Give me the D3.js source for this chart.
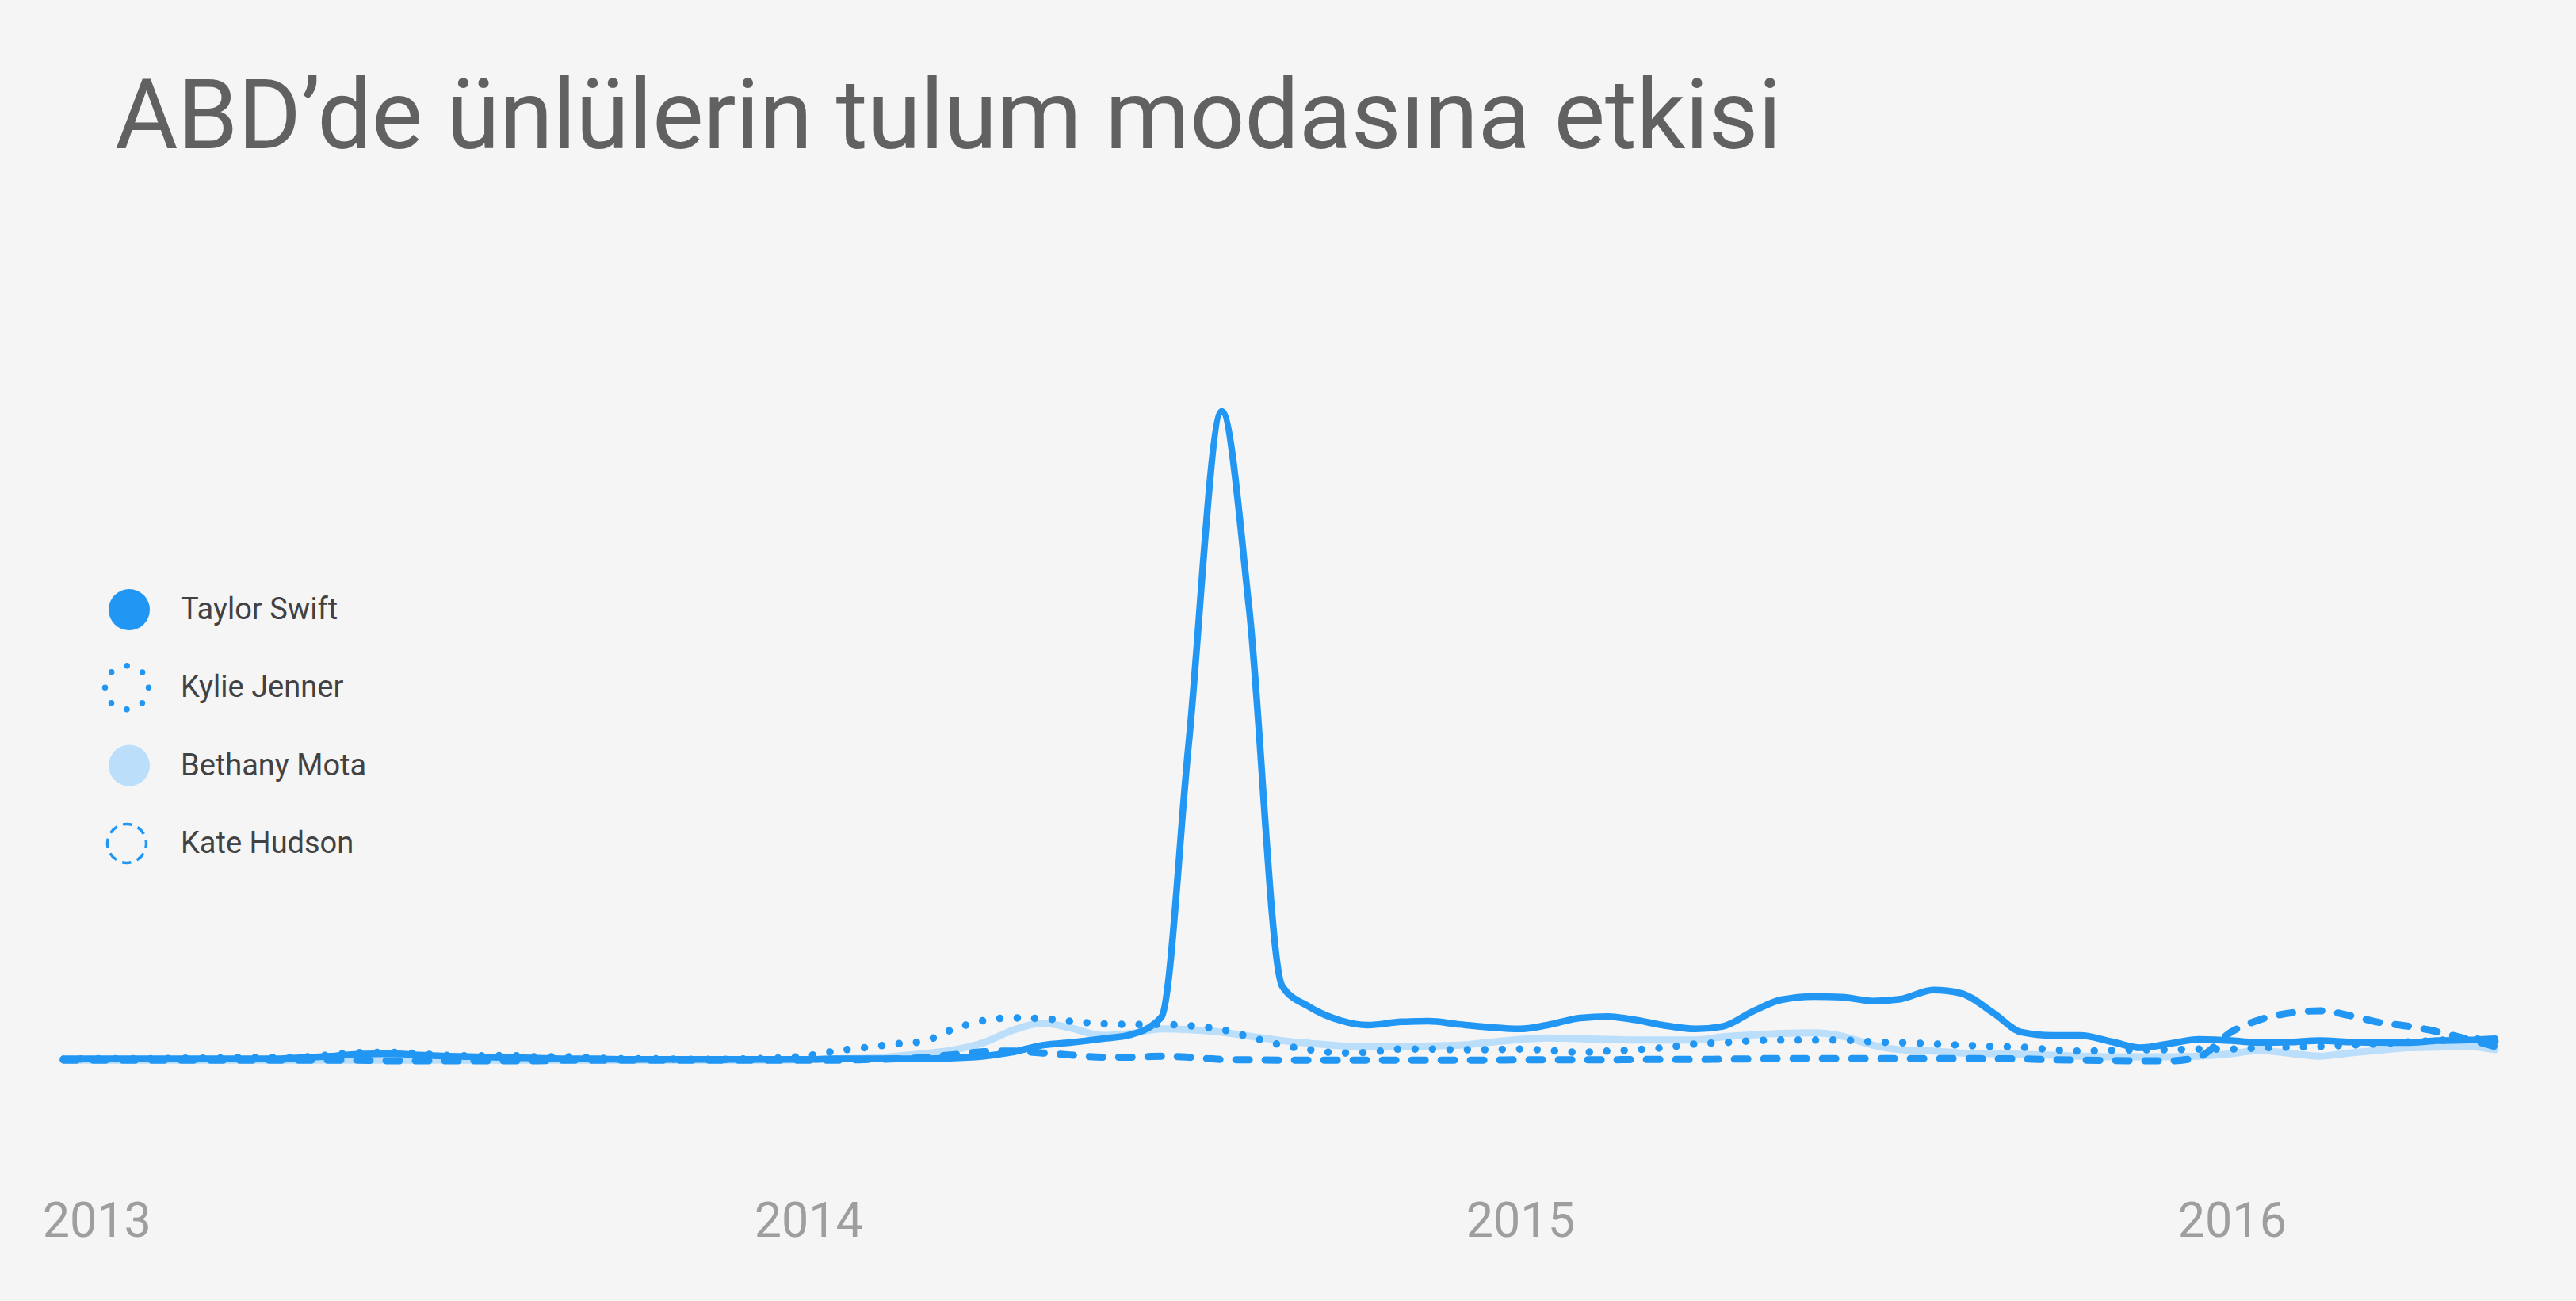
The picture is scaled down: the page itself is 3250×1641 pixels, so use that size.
<!DOCTYPE html>
<html>
<head>
<meta charset="utf-8">
<script src="https://cdn.jsdelivr.net/npm/d3@7"></script>
<style>
html, body { margin: 0; padding: 0; background: #F5F5F5; }
svg { display: block; }
</style>
</head>
<body>
<script>
// ---------- DATA ----------
const titleText = "ABD’de ünlülerin tulum modasına etkisi";
const seriesNames = ["Taylor Swift", "Kylie Jenner", "Bethany Mota", "Kate Hudson"];
const yearLabels = ["2013", "2014", "2015", "2016"];

const dates = [
  "2012-12-15",
  "2013-01-01","2013-01-15","2013-02-01","2013-02-15","2013-03-01","2013-03-15",
  "2013-04-01","2013-04-15","2013-05-01","2013-05-15","2013-06-01","2013-06-15",
  "2013-07-01","2013-07-15","2013-08-01","2013-08-15","2013-09-01","2013-09-15",
  "2013-10-01","2013-10-15","2013-11-01","2013-11-15","2013-12-01","2013-12-15",
  "2014-01-01","2014-01-15","2014-02-01","2014-02-15","2014-03-01","2014-03-15",
  "2014-04-01","2014-04-15","2014-05-01","2014-05-15","2014-06-01","2014-06-15",
  "2014-07-01","2014-07-15","2014-08-01","2014-08-15","2014-09-01","2014-09-15",
  "2014-10-01","2014-10-15","2014-11-01","2014-11-15","2014-12-01","2014-12-15",
  "2015-01-01","2015-01-15","2015-02-01","2015-02-15","2015-03-01","2015-03-15",
  "2015-04-01","2015-04-15","2015-05-01","2015-05-15","2015-06-01","2015-06-15",
  "2015-07-01","2015-07-15","2015-08-01","2015-08-15","2015-09-01","2015-09-15",
  "2015-10-01","2015-10-15","2015-11-01","2015-11-15","2015-12-01","2015-12-15",
  "2016-01-01","2016-01-15","2016-02-01","2016-02-15","2016-03-01","2016-03-15",
  "2016-04-01","2016-04-15","2016-05-01","2016-05-15"
];

const taylorSwift = [
  0.3,
  0.3, 0.3, 0.3, 0.3, 0.3, 0.3,
  0.3, 0.45, 0.7, 1.0, 1.1, 0.9,
  0.7, 0.6, 0.5, 0.4, 0.3, 0.3,
  0.2, 0.2, 0.2, 0.2, 0.2, 0.2,
  0.2, 0.3, 0.3, 0.3, 0.3, 0.4,
  0.7, 1.3, 2.4, 2.8, 3.4, 4.0,
  6.7, 48.7, 100, 69.8, 11.5, 8.3,
  6.2, 5.5, 6.0, 6.1, 5.6, 5.2,
  4.9, 5.5, 6.6, 6.8, 6.3, 5.5,
  4.9, 5.3, 7.7, 9.4, 9.9, 9.8,
  9.2, 9.5, 10.9, 10.4, 7.3, 4.4,
  3.9, 3.9, 2.9, 2.0, 2.7, 3.3,
  3.1, 2.8, 2.9, 3.1, 2.9, 2.8,
  2.8, 3.1, 3.2, 3.4
];

const kylieJenner = [
  0.2,
  0.3, 0.3, 0.3, 0.4, 0.4, 0.5,
  0.5, 0.55, 0.9, 1.25, 1.3, 1.1,
  0.8, 0.75, 0.8, 0.6, 0.6, 0.4,
  0.3, 0.3, 0.2, 0.2, 0.3, 0.4,
  0.8, 1.5, 2.1, 2.6, 3.0, 4.7,
  6.2, 6.6, 6.5, 6.1, 5.7, 5.6,
  5.6, 5.4, 4.8, 3.7, 2.4, 1.7,
  1.2, 1.3, 1.8, 1.8, 1.7, 1.7,
  1.8, 1.6, 1.3, 1.5, 1.7, 2.0,
  2.6, 2.8, 3.1, 3.2, 3.2, 3.2,
  2.9, 2.8, 2.6, 2.4, 2.2, 2.1,
  1.7, 1.5, 1.6, 1.7, 1.7, 1.8,
  1.8, 2.0, 2.1, 2.2, 2.4, 2.6,
  2.9, 3.1, 3.4, 3.0
];

const bethanyMota = [
  0.1,
  0.1, 0.1, 0.1, 0.1, 0.1, 0.1,
  0.1, 0.1, 0.1, 0.1, 0.1, 0.1,
  0.1, 0.1, 0.1, 0.1, 0.1, 0.1,
  0.1, 0.1, 0.1, 0.1, 0.1, 0.1,
  0.2, 0.3, 0.4, 0.7, 1.1, 1.6,
  2.8, 4.6, 5.8, 5.1, 3.9, 4.2,
  4.9, 4.8, 4.4, 3.8, 3.1, 2.7,
  2.3, 2.2, 2.2, 2.3, 2.4, 2.8,
  3.3, 3.5, 3.4, 3.3, 3.2, 3.2,
  3.2, 3.7, 4.0, 4.2, 4.3, 3.8,
  2.4, 1.7, 1.5, 1.2, 1.1, 1.0,
  0.85, 0.7, 0.6, 0.6, 0.6, 0.7,
  1.1, 1.6, 1.1, 0.7, 1.2, 1.6,
  2.0, 2.1, 2.2, 1.7
];

const kateHudson = [
  0.1,
  0.1, 0.1, 0.1, 0.1, 0.1, 0.1,
  0.1, 0.1, 0.1, 0.1, 0.0, 0.0,
  0.0, 0.0, 0.0, 0.0, 0.1, 0.1,
  0.1, 0.1, 0.1, 0.1, 0.1, 0.1,
  0.1, 0.1, 0.2, 0.3, 0.5, 0.9,
  1.4, 1.5, 1.2, 0.9, 0.55, 0.55,
  0.7, 0.55, 0.2, 0.15, 0.1, 0.1,
  0.1, 0.1, 0.1, 0.1, 0.1, 0.1,
  0.15, 0.15, 0.15, 0.15, 0.2, 0.2,
  0.2, 0.25, 0.3, 0.35, 0.35, 0.35,
  0.35, 0.35, 0.35, 0.35, 0.3, 0.3,
  0.15, 0.1, 0.05, 0.0, 0.0, 0.6,
  4.5, 6.3, 7.4, 7.7, 7.0, 6.0,
  5.3, 4.5, 3.3, 2.2
];

// ---------- LAYOUT / STYLE ----------
const W = 3250, H = 1641;
const blue = "#2196F3", lightBlue = "#BBDEFB";
const parse = d3.timeParse("%Y-%m-%d");
const dateObjs = dates.map(parse);

const svg = d3.select("body").append("svg")
  .attr("width", W).attr("height", H)
  .style("background", "#F5F5F5");

svg.append("rect").attr("width", W).attr("height", H).attr("fill", "#F5F5F5");

svg.append("text")
  .attr("x", 145).attr("y", 187)
  .attr("font-family", "Roboto, sans-serif")
  .attr("font-size", 122)
  .attr("letter-spacing", -0.3)
  .attr("fill", "#616161")
  .text(titleText);

const x = d3.scaleTime()
  .domain(d3.extent(dateObjs))
  .range([80, 3148]);

const y = d3.scaleLinear()
  .domain([0, 100])
  .range([1338, 519]);

// axis
const axis = d3.axisBottom(x)
  .tickValues(yearLabels.map(yy => d3.timeParse("%Y")(yy)))
  .tickFormat(d3.timeFormat("%Y"))
  .tickSize(0)
  .tickPadding(0);

const gAxis = svg.append("g")
  .attr("transform", "translate(0,1517)")
  .call(axis);
gAxis.select(".domain").remove();
gAxis.attr("font-family", "Roboto, sans-serif").attr("font-size", 61);
gAxis.selectAll("text").attr("fill", "#9E9E9E");

const series = [
  { name: seriesNames[2], values: bethanyMota, stroke: lightBlue, width: 9, dash: null },
  { name: seriesNames[3], values: kateHudson, stroke: blue, width: 9, dash: "17 20" },
  { name: seriesNames[1], values: kylieJenner, stroke: blue, width: 9.5, dash: "0 22" },
  { name: seriesNames[0], values: taylorSwift, stroke: blue, width: 8.5, dash: null }
];

const line = d3.line()
  .x((d, i) => x(dateObjs[i]))
  .y(d => y(d))
  .curve(d3.curveMonotoneX);

svg.append("g").selectAll("path")
  .data(series)
  .join("path")
  .attr("d", s => line(s.values))
  .attr("fill", "none")
  .attr("stroke", s => s.stroke)
  .attr("stroke-width", s => s.width)
  .attr("stroke-linecap", "round")
  .attr("stroke-linejoin", "round")
  .attr("stroke-dasharray", s => s.dash);

// legend
const legendItems = [
  { name: seriesNames[0], type: "solid", color: blue },
  { name: seriesNames[1], type: "dots", color: blue },
  { name: seriesNames[2], type: "solid", color: lightBlue },
  { name: seriesNames[3], type: "dash", color: blue }
];
const lg = svg.append("g");
legendItems.forEach((it, i) => {
  const base = 781 + i * 98.3;
  const cy = base - 12;
  if (it.type === "solid") {
    lg.append("circle").attr("cx", 163).attr("cy", cy).attr("r", 26).attr("fill", it.color);
  } else if (it.type === "dots") {
    const r = 27.5, c = 2 * Math.PI * r;
    lg.append("circle").attr("cx", 160).attr("cy", cy).attr("r", r)
      .attr("fill", "none").attr("stroke", it.color).attr("stroke-width", 7.5)
      .attr("stroke-linecap", "round")
      .attr("stroke-dasharray", `0 ${c / 8}`);
  } else {
    const r = 24.5, c = 2 * Math.PI * r, p = c / 8, dl = 11.5;
    lg.append("circle").attr("cx", 160).attr("cy", cy).attr("r", r)
      .attr("fill", "none").attr("stroke", it.color).attr("stroke-width", 3.5)
      .attr("stroke-dasharray", `${dl} ${p - dl}`)
      .attr("stroke-dashoffset", dl / 2);
  }
  lg.append("text")
    .attr("x", 228).attr("y", base)
    .attr("font-family", "Roboto, sans-serif")
    .attr("font-size", 38)
    .attr("fill", "#424242")
    .text(it.name);
});
</script>
</body>
</html>
